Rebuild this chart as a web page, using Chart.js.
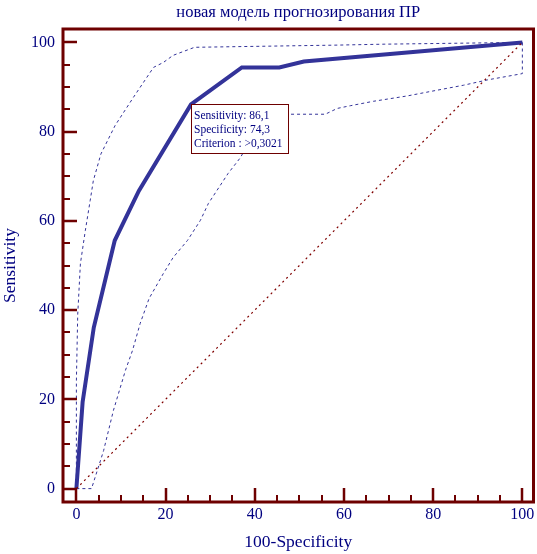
<!DOCTYPE html>
<html>
<head>
<meta charset="utf-8">
<script src="https://cdn.jsdelivr.net/npm/chart.js@4.4.0/dist/chart.umd.min.js"></script>
<style>
body{margin:0;background:#fff}
#wrap{width:537px;height:554px}
</style>
</head>
<body>
<div id="wrap"><canvas id="rocChart"></canvas></div>
<script>
// texts
const chartTitle = 'новая модель прогнозирования ПР';
const xTitle = '100-Specificity';
const yTitle = 'Sensitivity';
const tickValues = [0, 20, 40, 60, 80, 100];

// ROC curve (100-specificity, sensitivity)
const rocX = [0, 1.4, 3.9, 8.6, 14.0, 25.7, 37.1, 45.5, 51.0, 100];
const rocY = [0, 19.4, 36.1, 55.6, 66.7, 86.1, 94.4, 94.4, 95.7, 100];

// confidence bounds
const upperX = [0, 0, 0.3, 0.9, 2.0, 3.1, 3.8, 5.5, 7.0, 8.7, 12.8, 17.3, 19.5, 21.7, 26.5, 59, 69, 100];
const upperY = [0, 24, 39, 50.4, 57.8, 64.6, 69.0, 75.0, 78.0, 81.4, 87.7, 94.4, 95.5, 97.1, 98.9, 99.4, 99.6, 100];

const lowerX = [0, 3.4, 6.1, 8.3, 11.0, 12.6, 14.3, 16.3, 19.5, 21.7, 24.9, 27.8, 29.6, 34.0, 36.8, 40.0, 43.5, 55.8, 58.5, 61.4, 66.6, 74.2, 79.4, 86.8, 92.2, 100, 100];
const lowerY = [0, 0, 8.5, 17.5, 26.5, 31.0, 37.0, 42.6, 48.2, 51.8, 55.6, 60.1, 63.9, 70.6, 74.2, 80.0, 83.9, 83.9, 85.2, 85.8, 86.8, 88.0, 89.0, 90.4, 91.6, 93.0, 100];

const diagX = [0, 100];
const diagY = [0, 100];

// criterion point and its label
const critX = 25.7;
const critY = 86.1;
const critLines = ['Sensitivity: 86,1', 'Specificity: 74,3', 'Criterion : >0,3021'];

const pts = (xs, ys) => xs.map((v, i) => ({x: v, y: ys[i]}));

const frameColor = '#6e0000';
const textColor = '#000080';
const lineColor = '#333399';
const serif = "'Liberation Serif', 'Times New Roman', serif";

const frameTicks = {
  id: 'frameTicks',
  afterDatasetsDraw(chart) {
    const {ctx, chartArea: a, scales: {x, y}} = chart;
    ctx.save();
    ctx.strokeStyle = frameColor;
    for (let v = 0; v <= 100; v += 5) {
      const major = tickValues.includes(v);
      const len = major ? 14 : 7;
      ctx.lineWidth = major ? 2.5 : 2;
      const px = Math.round(x.getPixelForValue(v));
      const py = Math.round(y.getPixelForValue(v));
      ctx.beginPath();
      ctx.moveTo(px, a.bottom);
      ctx.lineTo(px, a.bottom - len);
      ctx.moveTo(a.left, py);
      ctx.lineTo(a.left + len, py);
      ctx.stroke();
    }
    ctx.lineWidth = 3;
    ctx.strokeRect(a.left, a.top, a.right - a.left, a.bottom - a.top);

    // criterion box
    const bx = Math.round(x.getPixelForValue(critX)) + 0.5;
    const by = Math.round(y.getPixelForValue(critY)) + 0.5;
    const bw = 97, bh = 49;
    ctx.fillStyle = '#ffffff';
    ctx.fillRect(bx, by, bw, bh);
    ctx.lineWidth = 1;
    ctx.strokeRect(bx, by, bw, bh);
    ctx.fillStyle = textColor;
    ctx.font = '11.5px ' + serif;
    ctx.textBaseline = 'middle';
    ctx.textAlign = 'left';
    critLines.forEach((t, i) => ctx.fillText(t, bx + 2.5, by + 11 + i * 14));
    ctx.restore();
  }
};

new Chart(document.getElementById('rocChart'), {
  type: 'scatter',
  data: {
    datasets: [
      {data: pts(diagX, diagY), showLine: true, borderColor: '#800000', borderWidth: 1.2, borderDash: [2, 3.5], pointRadius: 0},
      {data: pts(upperX, upperY), showLine: true, borderColor: lineColor, borderWidth: 1, borderDash: [3, 3], pointRadius: 0},
      {data: pts(lowerX, lowerY), showLine: true, borderColor: lineColor, borderWidth: 1, borderDash: [3, 3], pointRadius: 0},
      {data: pts(rocX, rocY), showLine: true, borderColor: lineColor, borderWidth: 4, pointRadius: 0}
    ]
  },
  options: {
    responsive: true,
    maintainAspectRatio: false,
    animation: false,
    layout: {padding: {left: 0, right: 3.5, top: 0, bottom: 0}},
    plugins: {
      legend: {display: false},
      tooltip: {enabled: false},
      title: {
        display: true,
        fullSize: false,
        text: chartTitle,
        color: textColor,
        font: {family: serif, size: 16.5, weight: 'normal'},
        padding: {top: 3, bottom: 6.2}
      }
    },
    scales: {
      x: {
        type: 'linear',
        min: -3,
        max: 102.5,
        grid: {display: false, drawTicks: false},
        border: {display: false},
        ticks: {color: textColor, font: {family: serif, size: 16}, padding: 3.5, maxRotation: 0},
        afterBuildTicks: s => { s.ticks = tickValues.map(v => ({value: v})); },
        afterFit: s => { s.height = 52; s.paddingLeft = 0; s.paddingRight = 0; },
        title: {display: true, text: xTitle, color: textColor, font: {family: serif, size: 17.5}, padding: {top: 0, bottom: 1}}
      },
      y: {
        type: 'linear',
        min: -3,
        max: 103,
        grid: {display: false, drawTicks: false},
        border: {display: false},
        ticks: {color: textColor, font: {family: serif, size: 16}, padding: 8},
        afterBuildTicks: s => { s.ticks = tickValues.map(v => ({value: v})); },
        afterFit: s => { s.width = 63; s.paddingTop = 0; s.paddingBottom = 0; },
        title: {display: true, text: yTitle, color: textColor, font: {family: serif, size: 17.5}, padding: {top: 0, bottom: 0}}
      }
    }
  },
  plugins: [frameTicks]
});
</script>
</body>
</html>
